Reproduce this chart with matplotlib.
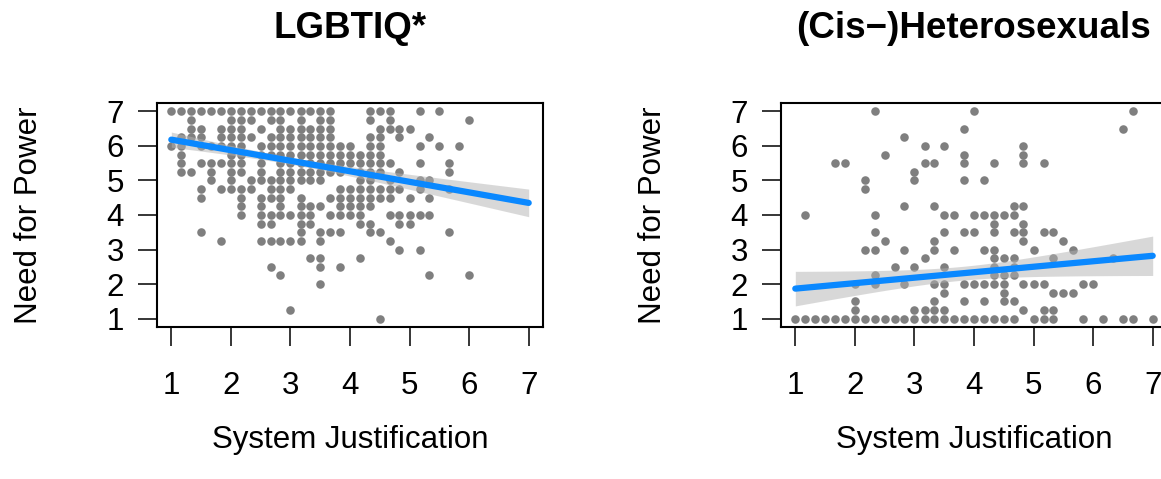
import numpy as np
import matplotlib
matplotlib.use("Agg")
import matplotlib.pyplot as plt

plt.rcParams['font.family'] = ['Liberation Sans', 'DejaVu Sans']

# ---------------- data ----------------
titles = ["LGBTIQ*", "(Cis\u2212)Heterosexuals"]
x_label = "System Justification"
y_label = "Need for Power"
ticks = [1, 2, 3, 4, 5, 6, 7]

# LGBTIQ* panel: y level -> x values of points at that level
lgbt_y_levels = [7.0, 6.75, 6.5, 6.25, 6.0, 5.75, 5.5, 5.25, 5.0, 4.75, 4.5, 4.25,
                 4.0, 3.75, 3.5, 3.25, 3.0, 2.75, 2.5, 2.25, 2.0, 1.25, 1.0]
lgbt_x_by_level = [
    [1.00, 1.17, 1.33, 1.50, 1.67, 1.83, 2.00, 2.17, 2.33, 2.50, 2.67, 2.83, 3.00, 3.17, 3.33, 3.50, 3.67, 4.33, 4.50, 4.67, 5.17, 5.50],
    [1.33, 2.00, 2.17, 2.33, 2.67, 2.83, 3.17, 3.50, 3.67, 4.33, 4.67, 6.00],
    [1.33, 1.50, 1.83, 2.00, 2.17, 2.50, 2.83, 3.00, 3.17, 3.33, 3.50, 3.67, 4.50, 4.67, 4.83, 5.00],
    [1.17, 1.33, 1.50, 1.83, 2.00, 2.17, 2.33, 2.67, 2.83, 3.00, 3.17, 3.33, 3.50, 3.67, 4.33, 4.50, 4.83, 5.33],
    [1.00, 1.17, 1.50, 1.67, 1.83, 2.00, 2.17, 2.50, 2.67, 2.83, 3.00, 3.17, 3.33, 3.50, 3.67, 3.83, 4.00, 4.33, 4.50, 5.17, 5.50, 5.83],
    [1.17, 2.00, 2.17, 2.50, 2.67, 2.83, 3.00, 3.17, 3.33, 3.50, 3.67, 3.83, 4.00, 4.17, 4.33, 4.50],
    [1.17, 1.50, 1.67, 1.83, 2.00, 2.17, 2.50, 2.83, 3.00, 3.17, 3.33, 3.50, 3.67, 3.83, 4.00, 4.17, 4.33, 4.50, 4.67, 5.17, 5.67],
    [1.17, 1.33, 1.67, 2.00, 2.17, 2.50, 2.83, 3.00, 3.17, 3.33, 3.50, 3.67, 3.83, 4.17, 4.33, 4.50, 4.83, 5.67],
    [1.67, 2.00, 2.33, 2.50, 2.67, 2.83, 3.00, 3.17, 3.33, 3.50, 4.17, 4.33, 4.67, 5.17, 5.33],
    [1.50, 1.83, 2.00, 2.17, 2.33, 2.67, 2.83, 3.00, 3.83, 4.00, 4.17, 4.33, 4.50, 4.67, 4.83, 5.17, 5.67],
    [1.50, 2.17, 2.50, 2.67, 2.83, 3.17, 3.67, 3.83, 4.00, 4.17, 4.33, 4.50, 4.67, 5.00, 5.33],
    [2.17, 2.50, 2.83, 3.17, 3.33, 3.50, 3.83, 4.00, 4.17, 4.33],
    [2.17, 2.50, 2.67, 2.83, 3.00, 3.17, 3.33, 3.67, 3.83, 4.00, 4.17, 4.67, 4.83, 5.00, 5.17, 5.33],
    [2.50, 2.67, 3.17, 3.33, 4.17, 4.33, 4.83, 5.00],
    [1.50, 3.17, 3.50, 3.67, 3.83, 4.33, 4.50, 5.67],
    [1.83, 2.50, 2.67, 2.83, 3.00, 3.17, 3.50, 4.67],
    [4.83, 5.17],
    [3.33, 3.50, 4.17],
    [2.67, 3.50, 3.83],
    [2.83, 5.33, 6.00],
    [3.50],
    [3.00],
    [4.50],
]

# (Cis-)Heterosexuals panel
het_y_levels = [7.0, 6.5, 6.25, 6.0, 5.75, 5.5, 5.25, 5.0, 4.75, 4.25, 4.0, 3.75,
                3.5, 3.25, 3.0, 2.75, 2.5, 2.25, 2.0, 1.75, 1.5, 1.25, 1.0]
het_x_by_level = [
    [2.33, 4.00, 6.67],
    [3.83, 6.50],
    [2.83],
    [3.17, 3.50, 4.83],
    [2.50, 3.83, 4.83],
    [1.67, 1.83, 3.17, 3.33, 3.83, 4.33, 4.83, 5.17],
    [3.00],
    [2.17, 3.00, 3.83, 4.17],
    [2.17],
    [2.83, 3.33, 4.67, 4.83],
    [1.17, 2.33, 3.50, 3.67, 4.00, 4.17, 4.33, 4.50, 4.67],
    [4.33, 4.83],
    [2.33, 3.50, 3.83, 4.00, 4.33, 4.67, 4.83, 5.17, 5.33],
    [2.50, 3.33, 4.83, 5.50],
    [2.17, 2.33, 2.83, 3.33, 3.67, 4.17, 4.33, 5.00, 5.67],
    [3.17, 4.33, 4.50, 4.67, 5.33, 6.33],
    [2.67, 3.00, 3.50, 4.33, 4.67],
    [2.33, 4.33, 4.50, 4.67],
    [2.00, 2.33, 2.83, 3.33, 3.50, 3.83, 4.00, 4.17, 4.33, 4.50, 4.83, 5.00, 5.17, 5.83, 6.00],
    [3.50, 4.50, 5.33, 5.50, 5.67],
    [2.00, 3.33, 3.83, 4.17, 4.50, 4.67],
    [2.00, 3.00, 3.17, 3.33, 3.50, 4.83, 5.17, 5.33],
    [1.00, 1.17, 1.33, 1.50, 1.67, 1.83, 2.00, 2.17, 2.33, 2.50, 2.67, 2.83, 3.00, 3.17, 3.33, 3.50,
     3.67, 3.83, 4.00, 4.17, 4.33, 4.50, 4.67, 5.00, 5.17, 5.33, 5.83, 6.17, 6.50, 6.67, 7.00],
]

# fitted line (value at x=1 and x=7) and CI half-widths (at x=1, x=7, minimum)
lgbt_fit = [6.18, 4.35]
lgbt_ci = [0.22, 0.40, 0.10]
het_fit = [1.87, 2.82]
het_ci = [0.50, 0.57, 0.20]

# ---------------- styling ----------------
W, H = 1161, 479
fig = plt.figure(figsize=(W / 100, H / 100), dpi=100)

point_col = "#7f7f7f"
line_col = "#0a88ff"
band_col = "#b3b3b3"
label_fs = 22.5
title_fs = 26.5


def flatten(levels, xs_by):
    xs, ys = [], []
    for y, row in zip(levels, xs_by):
        xs.extend(row)
        ys.extend([y] * len(row))
    return np.array(xs), np.array(ys)


def band(fit, ci, x):
    a = ci[2] ** 2
    r = np.sqrt((ci[1] ** 2 - a) / (ci[0] ** 2 - a))
    xm = (7 + r) / (1 + r)
    b = (ci[0] ** 2 - a) / (xm - 1) ** 2
    yfit = fit[0] + (fit[1] - fit[0]) * (x - 1) / 6
    hw = np.sqrt(a + b * (x - xm) ** 2)
    return yfit, hw


def panel(left_px, title, levels, xs_by, fit, ci):
    box_l, box_r, box_t, box_b = left_px, left_px + 386, 103, 327
    ax = fig.add_axes([box_l / W, 1 - box_b / H, (box_r - box_l) / W, (box_b - box_t) / H])
    xs, ys = flatten(levels, xs_by)
    ax.scatter(xs, ys, s=38, c=point_col, linewidths=0, zorder=2)
    xl = np.linspace(1, 7, 200)
    yfit, hw = band(fit, ci, xl)
    ax.fill_between(xl, yfit - hw, yfit + hw, color=band_col, alpha=0.5, linewidth=0, zorder=3)
    ax.plot(xl, yfit, color=line_col, lw=4.5, solid_capstyle="round", zorder=4)
    ax.set_xlim(0.76, 7.24)
    ax.set_ylim(0.76, 7.24)
    ax.set_xticks(ticks)
    ax.set_yticks(ticks)
    ax.tick_params(direction="out", length=14, width=1.1, labelsize=label_fs, color="black")
    ax.tick_params(axis="x", pad=18)
    ax.tick_params(axis="y", pad=10)
    for s in ax.spines.values():
        s.set_linewidth(1.5)
        s.set_color("black")
    cx = (box_l + box_r) / 2
    fig.text(cx / W, 1 - 38 / H, title, ha="center", va="baseline",
             fontsize=title_fs, fontweight="bold")
    fig.text(cx / W, 1 - 448 / H, x_label, ha="center", va="baseline", fontsize=label_fs)
    fig.text((box_l - 120) / W, 1 - ((box_t + box_b) / 2) / H, y_label, rotation=90,
             rotation_mode="anchor", ha="center", va="baseline", fontsize=label_fs)
    return ax


panel(157, titles[0], lgbt_y_levels, lgbt_x_by_level, lgbt_fit, lgbt_ci)
panel(781, titles[1], het_y_levels, het_x_by_level, het_fit, het_ci)

fig.savefig("out.png", dpi=100)
